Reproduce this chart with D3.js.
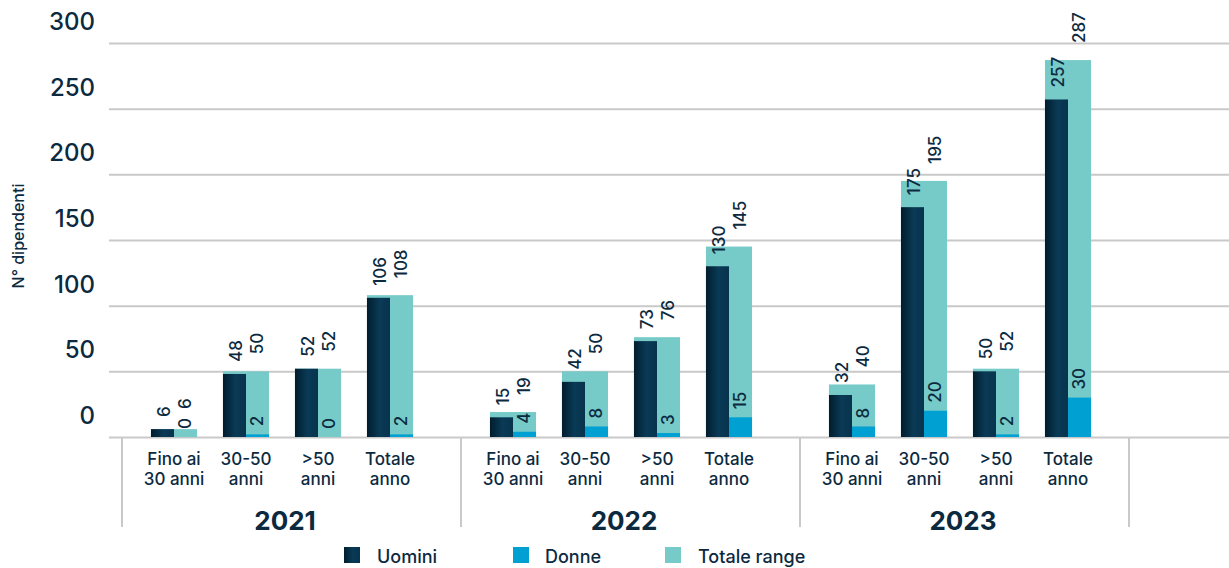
<!DOCTYPE html>
<html>
<head>
<meta charset="utf-8">
<script src="https://cdn.jsdelivr.net/npm/d3@7/dist/d3.min.js"></script>
<style>
  html, body { margin: 0; padding: 0; background: #ffffff; }
  svg { display: block; font-family: Inter, "Noto Sans", sans-serif; }
</style>
</head>
<body>
<svg id="chart" width="1229" height="568"></svg>
<script>
// ---- Data ----
const years = ["2021", "2022", "2023"];
const ageGroups = ["Fino ai 30 anni", "30-50 anni", ">50 anni", "Totale anno"];
const ageLabelLines = [["Fino ai", "30 anni"], ["30-50", "anni"], [">50", "anni"], ["Totale", "anno"]];
// values per year, in ageGroups order
const uomini = { "2021": [6, 48, 52, 106], "2022": [15, 42, 73, 130], "2023": [32, 175, 50, 257] };
const donne  = { "2021": [0, 2, 0, 2],     "2022": [4, 8, 3, 15],     "2023": [8, 20, 2, 30] };
const totaleRange = { "2021": [6, 50, 52, 108], "2022": [19, 50, 76, 145], "2023": [40, 195, 52, 287] };
const yTicks = [0, 50, 100, 150, 200, 250, 300];
const seriesNames = ["Uomini", "Donne", "Totale range"];

// ---- Styles ----
const textColor = "#0c2a3f";
const gridColor = "#c9c9c9";
const blue = "#00a0d3";
const teal = "#76cbc9";

const svg = d3.select("#chart");
const defs = svg.append("defs");
const grad = defs.append("linearGradient").attr("id", "darkGrad")
  .attr("x1", "0%").attr("x2", "100%").attr("y1", "0%").attr("y2", "0%");
grad.append("stop").attr("offset", "0%").attr("stop-color", "#011d2e");
grad.append("stop").attr("offset", "55%").attr("stop-color", "#0a3a56");
grad.append("stop").attr("offset", "100%").attr("stop-color", "#07334d");

// ---- Scales ----
const y = d3.scaleLinear().domain([0, 300]).range([437, 43]);
const xYear = d3.scaleBand().domain(years).range([122, 1139]).padding(0);
const xCat = d3.scaleBand().domain(ageGroups).range([16, 304]).paddingInner(0.36).paddingOuter(0.18);

// ---- Gridlines ----
const gridAxis = d3.axisRight(y).tickValues(yTicks).tickSize(1120).tickFormat("");
const gG = svg.append("g").attr("transform", "translate(109,0)").call(gridAxis);
gG.select(".domain").remove();
gG.selectAll(".tick line").attr("stroke", gridColor).attr("stroke-width", 2);

// ---- Y tick labels (placed above the lines) ----
svg.append("g").selectAll("text").data(yTicks).join("text")
  .attr("x", 95).attr("y", d => y(d) - 13)
  .attr("text-anchor", "end")
  .attr("font-size", 24).attr("font-weight", 500).attr("fill", textColor)
  .text(d => d);

// Y axis title
svg.append("text")
  .attr("transform", "translate(18,236) rotate(-90)")
  .attr("text-anchor", "middle").attr("dy", "0.35em")
  .attr("font-size", 16).attr("font-weight", 500).attr("fill", textColor)
  .text("N° dipendenti");

// ---- Year separators ----
const sepX = years.map(yr => xYear(yr)).concat([xYear.range()[1] - 10]);
svg.append("g").selectAll("line").data(sepX).join("line")
  .attr("x1", d => d).attr("x2", d => d)
  .attr("y1", 437).attr("y2", 527)
  .attr("stroke", gridColor).attr("stroke-width", 2);

// ---- Bars ----
const bw = xCat.bandwidth();
const half = bw / 2;
years.forEach(yr => {
  const g = svg.append("g").attr("transform", `translate(${xYear(yr)},0)`);
  const rows = ageGroups.map((a, i) => ({ a, i, u: uomini[yr][i], d: donne[yr][i], t: totaleRange[yr][i] }));
  // Totale range (full width, behind)
  g.selectAll(".tot").data(rows).join("rect").attr("class", "tot")
    .attr("x", d => xCat(d.a)).attr("width", bw)
    .attr("y", d => y(d.t)).attr("height", d => y(0) - y(d.t))
    .attr("fill", teal);
  // Uomini (left half)
  g.selectAll(".uom").data(rows).join("rect").attr("class", "uom")
    .attr("x", d => xCat(d.a)).attr("width", half)
    .attr("y", d => y(d.u)).attr("height", d => y(0) - y(d.u))
    .attr("fill", "url(#darkGrad)");
  // Donne (right half)
  g.selectAll(".don").data(rows).join("rect").attr("class", "don")
    .attr("x", d => xCat(d.a) + half).attr("width", half)
    .attr("y", d => y(d.d)).attr("height", d => y(0) - y(d.d))
    .attr("fill", blue);

  // value labels (rotated)
  const lab = (sel, xf, yf, txt) => sel
    .attr("transform", d => `translate(${xf(d)},${yf(d)}) rotate(-90)`)
    .attr("text-anchor", "start").attr("dy", "0.35em")
    .attr("font-size", 17).attr("font-weight", 500).attr("fill", textColor)
    .text(txt);
  g.selectAll(".lu").data(rows).join("text").attr("class", "lu")
    .call(lab, d => xCat(d.a) + half / 2 + 2, d => y(d.u) - 12, d => d.u);
  g.selectAll(".ld").data(rows).join("text").attr("class", "ld")
    .call(lab, d => xCat(d.a) + half * 1.5, d => y(d.d) - 8, d => d.d);
  g.selectAll(".lt").data(rows).join("text").attr("class", "lt")
    .call(lab, d => xCat(d.a) + half * 1.5,
      d => Math.min(y(d.t) - 17, y(d.d) - 8 - 12 - 8), d => d.t);

  // category labels
  g.selectAll(".cat").data(rows).join("text").attr("class", "cat")
    .attr("x", d => xCat(d.a) + bw / 2).attr("y", 465)
    .attr("text-anchor", "middle").attr("font-size", 17).attr("font-weight", 500).attr("fill", textColor)
    .selectAll("tspan").data(d => ageLabelLines[d.i]).join("tspan")
    .attr("x", function () { return d3.select(this.parentNode).attr("x"); })
    .attr("dy", (d, i) => i === 0 ? 0 : 20)
    .text(d => d);

  // year label
  g.append("text")
    .attr("x", xCat(ageGroups[0]) + (xCat(ageGroups[3]) + bw - xCat(ageGroups[0])) / 2 + 3)
    .attr("y", 530)
    .attr("text-anchor", "middle").attr("font-size", 26).attr("font-weight", 700)
    .attr("fill", textColor)
    .text(yr);
});

// ---- Legend ----
const legendX = [344, 513, 665];
const legendFill = ["url(#darkGrad)", blue, teal];
const lg = svg.append("g").selectAll("g").data(seriesNames).join("g")
  .attr("transform", (d, i) => `translate(${legendX[i]},547)`);
lg.append("rect").attr("width", 16).attr("height", 16).attr("fill", (d, i) => legendFill[i]);
lg.append("text").attr("x", (d, i) => [33, 32, 33][i]).attr("y", 16)
  .attr("font-size", 18).attr("font-weight", 500).attr("fill", textColor).text(d => d);
</script>
</body>
</html>
